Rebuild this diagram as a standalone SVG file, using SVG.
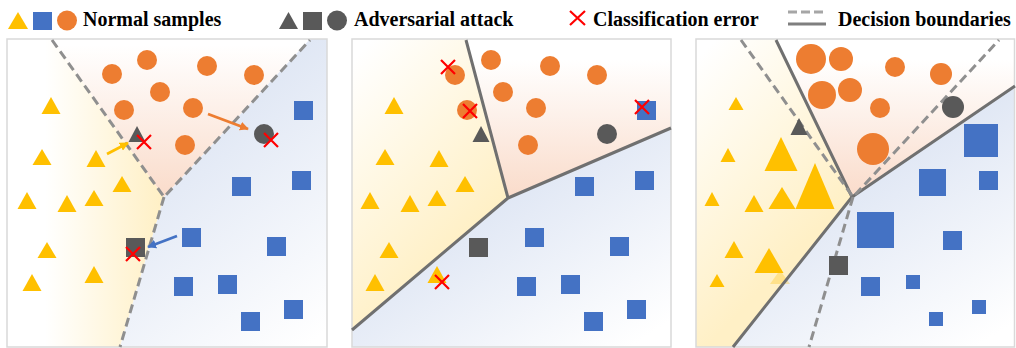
<svg xmlns="http://www.w3.org/2000/svg" width="1016" height="348" viewBox="0 0 1016 348">
<style>
.lg{font-family:"Liberation Serif","Times New Roman",serif;font-weight:bold;font-size:20px;fill:#000}
.tri{fill:#FFC000}
.sq{fill:#4472C4}
.ci{fill:#ED7D31}
.adv{fill:#595959}
.x{stroke:#FF0000;stroke-width:2.2;fill:none}
.dash{stroke:#8F8F8F;stroke-width:3;stroke-dasharray:9 5;fill:none}
.solid{stroke:#707070;stroke-width:3;fill:none;stroke-linejoin:round}
.frame{fill:none;stroke:#D9D9D9;stroke-width:1.5}
</style>
<defs>
<linearGradient id="gy1" x1="45" y1="0" x2="160" y2="0" gradientUnits="userSpaceOnUse"><stop offset="0" stop-color="#FFFFFF"/><stop offset="1" stop-color="#FFF0C6"/></linearGradient>
<linearGradient id="go1" x1="0" y1="45" x2="0" y2="195" gradientUnits="userSpaceOnUse"><stop offset="0" stop-color="#FFFFFF"/><stop offset="1" stop-color="#FADCCB"/></linearGradient>
<linearGradient id="gb1" x1="160" y1="120" x2="327" y2="330" gradientUnits="userSpaceOnUse"><stop offset="0" stop-color="#DCE4F3"/><stop offset="1" stop-color="#FFFFFF"/></linearGradient>
<linearGradient id="gy2" x1="352" y1="60" x2="500" y2="200" gradientUnits="userSpaceOnUse"><stop offset="0" stop-color="#FFFFFF"/><stop offset="1" stop-color="#FFF0C6"/></linearGradient>
<linearGradient id="go2" x1="0" y1="60" x2="0" y2="195" gradientUnits="userSpaceOnUse"><stop offset="0" stop-color="#FFFFFF"/><stop offset="1" stop-color="#FADCCB"/></linearGradient>
<linearGradient id="gb2" x1="510" y1="160" x2="630" y2="347" gradientUnits="userSpaceOnUse"><stop offset="0" stop-color="#DCE4F3"/><stop offset="1" stop-color="#FFFFFF"/></linearGradient>
<linearGradient id="gy3" x1="696" y1="60" x2="845" y2="200" gradientUnits="userSpaceOnUse"><stop offset="0" stop-color="#FFFFFF"/><stop offset="1" stop-color="#FFF0C6"/></linearGradient>
<linearGradient id="go3" x1="0" y1="60" x2="0" y2="195" gradientUnits="userSpaceOnUse"><stop offset="0" stop-color="#FFFFFF"/><stop offset="1" stop-color="#FADCCB"/></linearGradient>
<linearGradient id="gb3" x1="855" y1="150" x2="975" y2="347" gradientUnits="userSpaceOnUse"><stop offset="0" stop-color="#DCE4F3"/><stop offset="1" stop-color="#FFFFFF"/></linearGradient>
<marker id="ao" viewBox="0 0 10 10" refX="9" refY="5" markerWidth="3.2" markerHeight="3.2" orient="auto"><path d="M0,0 L10,5 L0,10 z" fill="#ED7D31"/></marker>
<marker id="ay" viewBox="0 0 10 10" refX="9" refY="5" markerWidth="3.2" markerHeight="3.2" orient="auto"><path d="M0,0 L10,5 L0,10 z" fill="#FFC000"/></marker>
<marker id="ab" viewBox="0 0 10 10" refX="9" refY="5" markerWidth="3.2" markerHeight="3.2" orient="auto"><path d="M0,0 L10,5 L0,10 z" fill="#4472C4"/></marker>
</defs>

<g id="legend">
<polygon class="tri" points="18,12 8,29 28,29"/>
<rect class="sq" x="33" y="12" width="19" height="18"/>
<circle class="ci" cx="67" cy="20.5" r="10"/>
<text class="lg" x="83" y="26">Normal samples</text>
<polygon class="adv" points="288.5,12 279,29 298,29"/>
<rect class="adv" x="303" y="12" width="19" height="18"/>
<circle class="adv" cx="337" cy="20.5" r="10"/>
<text class="lg" x="354" y="26">Adversarial attack</text>
<path class="x" d="M570,11 L585,25 M585,11 L570,25"/>
<text class="lg" x="593" y="26">Classification error</text>
<line x1="788" y1="12" x2="826" y2="12" stroke="#A6A6A6" stroke-width="3" stroke-dasharray="9 4"/>
<line x1="788" y1="24" x2="826" y2="24" stroke="#7F7F7F" stroke-width="3"/>
<text class="lg" x="838" y="26">Decision boundaries</text>
</g>

<g id="panel1">
<polygon fill="url(#gy1)" points="7,39 52,39 164,197 120,347 7,347"/>
<polygon fill="url(#go1)" points="52,39 310,39 164,197"/>
<polygon fill="url(#gb1)" points="310,39 327,39 327,347 120,347 164,197"/>
<rect class="frame" x="7" y="39" width="320" height="308"/>
<g class="ci">
<circle cx="112" cy="74" r="10"/><circle cx="147" cy="60" r="10"/><circle cx="207" cy="66" r="10"/><circle cx="254" cy="75" r="10"/>
<circle cx="160" cy="92" r="10"/><circle cx="124" cy="110" r="10"/><circle cx="193" cy="108" r="10"/><circle cx="185" cy="145" r="10"/>
</g>
<g class="tri">
<polygon points="51,97 41.5,114 60.5,114"/><polygon points="42,149 32.5,165 51.5,165"/><polygon points="96,150 86.5,167 105.5,167"/>
<polygon points="122,176 112.5,192 131.5,192"/><polygon points="27,192 17.5,209 36.5,209"/><polygon points="67,195 57.5,212 76.5,212"/>
<polygon points="94,190 84.5,206 103.5,206"/><polygon points="47,242 37.5,258 56.5,258"/><polygon points="32,274 22.5,291 41.5,291"/>
<polygon points="94,266 84.5,283 103.5,283"/>
</g>
<g class="sq">
<rect x="294" y="101" width="19" height="19"/><rect x="232" y="177" width="19" height="19"/><rect x="292" y="171" width="19" height="19"/>
<rect x="182" y="228" width="19" height="19"/><rect x="267" y="237" width="19" height="19"/><rect x="174" y="277" width="19" height="19"/>
<rect x="218" y="275" width="19" height="19"/><rect x="284" y="300" width="19" height="19"/><rect x="241" y="312" width="19" height="19"/>
</g>
<path class="dash" d="M52,40 L164,197 L310,40 M164,197 L120,347"/>
<g id="p1-adv">
<polygon class="adv" points="137,126 128.5,142 145.5,142"/>
<circle class="adv" cx="264" cy="134" r="10"/>
<rect class="adv" x="126" y="238" width="19" height="19"/>
<path class="x" d="M137,135 L151,149 M151,135 L137,149"/>
<path class="x" d="M264,133 L278,147 M278,133 L264,147"/>
<path class="x" d="M126,247 L140,261 M140,247 L126,261"/>
</g>
</g>

<g id="arrows">
<line x1="208" y1="114" x2="248" y2="129" stroke="#ED7D31" stroke-width="2.8" marker-end="url(#ao)"/>
<line x1="107" y1="154" x2="128" y2="143" stroke="#FFC000" stroke-width="2.8" marker-end="url(#ay)"/>
<line x1="177" y1="236" x2="148" y2="247" stroke="#4472C4" stroke-width="2.8" marker-end="url(#ab)"/>
</g>

<g id="panel2">
<polygon fill="url(#gy2)" points="352,39 466,39 508,198 352,330"/>
<polygon fill="url(#go2)" points="466,39 671,39 671,128 508,198"/>
<polygon fill="url(#gb2)" points="508,198 671,128 671,347 352,347 352,330"/>
<rect class="frame" x="352" y="39" width="319" height="308"/>
<g class="ci">
<circle cx="491" cy="60" r="10"/><circle cx="550" cy="66" r="10"/><circle cx="597" cy="75" r="10"/><circle cx="455" cy="75" r="10"/>
<circle cx="503" cy="92" r="10"/><circle cx="467" cy="110" r="10"/><circle cx="536" cy="108" r="10"/><circle cx="528" cy="145" r="10"/>
</g>
<g class="tri">
<polygon points="394,97 384.5,114 403.5,114"/><polygon points="385,149 375.5,165 394.5,165"/><polygon points="439,150 429.5,167 448.5,167"/>
<polygon points="465,176 455.5,192 474.5,192"/><polygon points="370,192 360.5,209 379.5,209"/><polygon points="410,195 400.5,212 419.5,212"/>
<polygon points="437,190 427.5,206 446.5,206"/><polygon points="389,242 379.5,258 398.5,258"/><polygon points="375,274 365.5,291 384.5,291"/>
<polygon points="437,266 427.5,283 446.5,283"/>
</g>
<g class="sq">
<rect x="637" y="101" width="19" height="19"/><rect x="575" y="177" width="19" height="19"/><rect x="635" y="171" width="19" height="19"/>
<rect x="525" y="228" width="19" height="19"/><rect x="610" y="237" width="19" height="19"/><rect x="517" y="277" width="19" height="19"/>
<rect x="561" y="275" width="19" height="19"/><rect x="627" y="300" width="19" height="19"/><rect x="584" y="312" width="19" height="19"/>
</g>
<path class="solid" d="M466,40 L508,198 L671,128 M508,198 L352,330"/>
<g id="p2-adv">
<polygon class="adv" points="481,126 472.5,142 489.5,142"/>
<circle class="adv" cx="607" cy="134" r="10"/>
<rect class="adv" x="469" y="238" width="19" height="19"/>
<path class="x" d="M441,60 L455,74 M455,60 L441,74"/>
<path class="x" d="M463,104 L477,118 M477,104 L463,118"/>
<path class="x" d="M635,100 L649,114 M649,100 L635,114"/>
<path class="x" d="M435,275 L449,289 M449,275 L435,289"/>
</g>
</g>

<g id="panel3">
<polygon fill="url(#gy3)" points="696,39 776,39 852,197 733,347 696,347"/>
<polygon fill="url(#go3)" points="776,39 1015,39 1015,86 852,197"/>
<polygon fill="url(#gb3)" points="852,197 1015,86 1015,347 733,347"/>
<rect class="frame" x="696" y="39" width="318.5" height="308"/>
<g class="ci">
<circle cx="811" cy="59" r="15"/><circle cx="841" cy="59" r="12"/><circle cx="895" cy="67" r="10"/><circle cx="941" cy="74" r="11"/>
<circle cx="822" cy="95" r="14"/><circle cx="850" cy="90" r="12"/><circle cx="880" cy="108" r="10"/><circle cx="873" cy="149" r="16"/>
</g>
<g class="tri">
<polygon points="736,97 728.5,110 743.5,110"/><polygon points="728,148 720.5,162 735.5,162"/>
<polygon points="781,137 764.5,171 797.5,171"/><polygon points="815,163 795.5,209 834.5,209"/>
<polygon points="782,187 768.5,209 795.5,209"/><polygon points="712,192 704.5,206 719.5,206"/>
<polygon points="754,195 744.5,212 763.5,212"/><polygon points="734,241 724.5,258 743.5,258"/>
<polygon points="769,248 754.5,273 783.5,273"/><polygon points="717,274 709.5,287 724.5,287"/>
<polygon points="780,270 770,284 790,284" opacity="0.3"/>
</g>
<g class="sq">
<rect x="964" y="124" width="34" height="33"/><rect x="919" y="169" width="27" height="27"/><rect x="979" y="171" width="19" height="19"/>
<rect x="857" y="212" width="37" height="36"/><rect x="943" y="231" width="19" height="19"/><rect x="861" y="277" width="19" height="19"/>
<rect x="906" y="275" width="14" height="14"/><rect x="972" y="300" width="14" height="14"/><rect x="929" y="312" width="14" height="14"/>
</g>
<path class="solid" d="M776,40 L852,197 L1015,86 M852,197 L733,347"/>
<path class="dash" d="M741,40 L853,197 L999,40 M853,197 L809,347"/>
<g id="p3-adv">
<polygon class="adv" points="799,118 790.5,135 807.5,135"/>
<circle class="adv" cx="953" cy="107" r="11"/>
<rect class="adv" x="829" y="256" width="19" height="19"/>
</g>
</g>
</svg>
